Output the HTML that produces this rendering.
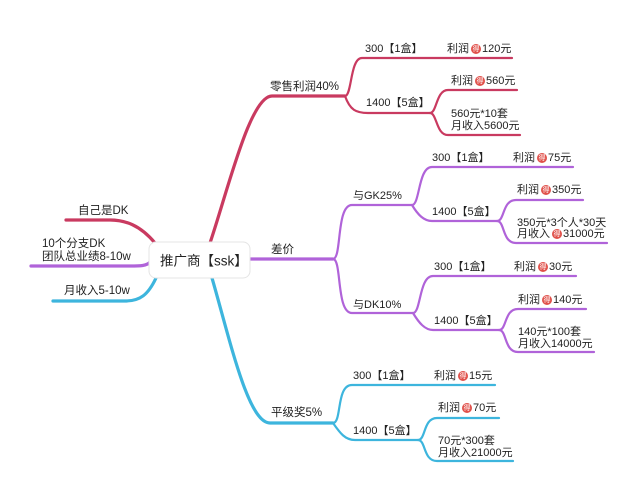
<!DOCTYPE html>
<html><head><meta charset="utf-8"><style>
html,body{margin:0;padding:0;background:#fff;}
svg{display:block;}
text{font-family:"Liberation Sans","Noto Sans CJK SC",sans-serif;fill:#222;dominant-baseline:central;}
.r{stroke:#c93a60;} .p{stroke:#b063d9;} .b{stroke:#3db5dd;}
path{fill:none;stroke-linecap:round;}
.m{stroke-width:3.2;} .s{stroke-width:2.2;}
.t{font-size:11px;} .l{font-size:11.5px;}
</style></head><body>
<svg width="640" height="493" viewBox="0 0 640 493" xmlns="http://www.w3.org/2000/svg">
<defs>
<g id="ic"><circle cx="0" cy="0" r="5" fill="#e0504a"/><text x="0" y="0.5" text-anchor="middle" style="font-size:7px;fill:#fff">得</text></g>
</defs>
<!-- red -->
<path class="r m" d="M210,243 C228,190 250,96 272,96 L345,96"/>
<path class="r s" d="M345,96 C352,96 350,58 362,58 L512,58"/>
<path class="r s" d="M345,96 C350,110 356,113 368,113 L430,113"/>
<path class="r s" d="M430,113 C437,113 436,90 448,90 L517,90"/>
<path class="r s" d="M430,113 C437,113 436,135 448,135 L520,135"/>
<path class="r m" d="M155,243 C140,225 125,220 110,220 L66,220"/>
<!-- purple -->
<path class="p m" d="M250,259 L333,259"/>
<path class="p s" d="M333,259 C342,259 336,205 352,205 L412,205"/>
<path class="p s" d="M333,259 C342,259 336,313 352,313 L413,313"/>
<path class="p s" d="M412,205 C420,205 418,167 432,167 L573,167"/>
<path class="p s" d="M412,205 C418,215 424,221 432,221 L497,221"/>
<path class="p s" d="M497,221 C505,221 502,200 516,200 L583,200"/>
<path class="p s" d="M497,221 C505,221 502,243 516,243 L607,243"/>
<path class="p s" d="M413,313 C421,313 419,276 433,276 L576,276"/>
<path class="p s" d="M413,313 C419,323 425,330 433,330 L499,330"/>
<path class="p s" d="M499,330 C507,330 504,309 518,309 L586,309"/>
<path class="p s" d="M499,330 C507,330 504,352 518,352 L594,352"/>
<path class="p m" d="M150,262 C147,266 140,266 130,266 L31,266"/>
<!-- blue -->
<path class="b m" d="M212,278 C230,340 248,423 270,423 L333,423"/>
<path class="b s" d="M333,423 C342,423 336,385 352,385 L495,385"/>
<path class="b s" d="M333,423 C340,433 345,440 355,440 L418,440"/>
<path class="b s" d="M418,440 C426,440 423,418 437,418 L499,418"/>
<path class="b s" d="M418,440 C426,440 423,461 437,461 L513,461"/>
<path class="b m" d="M156,278 C148,295 140,301 125,301 L53,301"/>
<!-- center -->
<rect x="149" y="242" width="101" height="36" rx="7" fill="#fff" stroke="#e4e4e4" stroke-width="1"/>
<text x="160" y="261" style="font-size:13.5px">推广商【ssk】</text>
<!-- left -->
<text class="l" x="78" y="211">自己是DK</text>
<text class="l" x="42" y="244">10个分支DK</text>
<text class="l" x="42" y="257">团队总业绩8-10w</text>
<text class="l" x="64" y="291">月收入5-10w</text>
<!-- red labels -->
<text class="l" x="270" y="87">零售利润40%</text>
<text class="t" x="365" y="49">300【1盒】</text>
<text class="t" x="447" y="49">利润</text><use href="#ic" x="476" y="49"/><text class="t" x="482" y="49">120元</text>
<text class="t" x="366" y="103">1400【5盒】</text>
<text class="t" x="451" y="81">利润</text><use href="#ic" x="480" y="81"/><text class="t" x="486" y="81">560元</text>
<text class="t" x="451" y="114">560元*10套</text>
<text class="t" x="451" y="126">月收入5600元</text>
<!-- purple labels -->
<text class="l" x="271" y="250">差价</text>
<text class="t" x="353" y="196">与GK25%</text>
<text class="t" x="432" y="158">300【1盒】</text>
<text class="t" x="513" y="158">利润</text><use href="#ic" x="542" y="158"/><text class="t" x="548" y="158">75元</text>
<text class="t" x="432" y="212">1400【5盒】</text>
<text class="t" x="517" y="190">利润</text><use href="#ic" x="546" y="190"/><text class="t" x="552" y="190">350元</text>
<text class="t" x="517" y="223">350元*3个人*30天</text>
<text class="t" x="517" y="234">月收入</text><use href="#ic" x="557" y="234"/><text class="t" x="563" y="234">31000元</text>
<text class="t" x="353" y="305">与DK10%</text>
<text class="t" x="434" y="267">300【1盒】</text>
<text class="t" x="514" y="267">利润</text><use href="#ic" x="543" y="267"/><text class="t" x="549" y="267">30元</text>
<text class="t" x="434" y="321">1400【5盒】</text>
<text class="t" x="518" y="300">利润</text><use href="#ic" x="547" y="300"/><text class="t" x="553" y="300">140元</text>
<text class="t" x="518" y="332">140元*100套</text>
<text class="t" x="518" y="344">月收入14000元</text>
<!-- blue labels -->
<text class="l" x="271" y="413">平级奖5%</text>
<text class="t" x="353" y="376">300【1盒】</text>
<text class="t" x="434" y="376">利润</text><use href="#ic" x="463" y="376"/><text class="t" x="469" y="376">15元</text>
<text class="t" x="353" y="431">1400【5盒】</text>
<text class="t" x="438" y="408">利润</text><use href="#ic" x="467" y="408"/><text class="t" x="473" y="408">70元</text>
<text class="t" x="438" y="441">70元*300套</text>
<text class="t" x="438" y="453">月收入21000元</text>
</svg>
</body></html>
